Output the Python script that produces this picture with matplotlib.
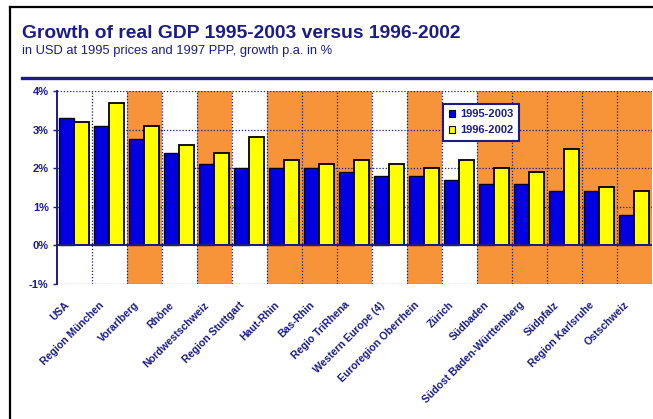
import matplotlib
matplotlib.use("Agg")
import matplotlib.pyplot as plt
import matplotlib.transforms as mtransforms
from matplotlib.patches import Patch
import numpy as np

plt.rcParams['font.family'] = ['Liberation Sans', 'DejaVu Sans']

categories = ["USA", "Region München", "Vorarlberg", "Rhône", "Nordwestschweiz",
              "Region Stuttgart", "Haut-Rhin", "Bas-Rhin", "Regio TriRhena",
              "Western Europe (4)", "Euroregion Oberrhein", "Zürich", "Südbaden",
              "Südost Baden-Württemberg", "Südpfalz", "Region Karlsruhe", "Ostschweiz"]
growth_1995_2003 = [3.3, 3.1, 2.75, 2.4, 2.1, 2.0, 2.0, 2.0, 1.9, 1.8, 1.8, 1.7,
                    1.6, 1.6, 1.4, 1.4, 0.8]
growth_1996_2002 = [3.2, 3.7, 3.1, 2.6, 2.4, 2.8, 2.2, 2.1, 2.2, 2.1, 2.0, 2.2,
                    2.0, 1.9, 2.5, 1.5, 1.4]
highlighted = [False, False, True, False, True, False, True, True, True, False,
               True, False, True, True, True, True, True]
series_names = ["1995-2003", "1996-2002"]
y_ticks = [-1, 0, 1, 2, 3, 4]
y_tick_labels = ["-1%", "0%", "1%", "2%", "3%", "4%"]

NAVY = "#1c1c86"
ORANGE = "#f7943a"
BLUE = "#0000e0"
YELLOW = "#ffff00"

W, H = 653, 419
fig = plt.figure(figsize=(W / 100, H / 100), dpi=100)
fig.patch.set_facecolor("white")

# frame and header
fig.add_artist(plt.Line2D([10 / W, 10 / W], [0, 1 - 7 / H], color="black", lw=1.6))
fig.add_artist(plt.Line2D([10 / W, 1], [1 - 7 / H, 1 - 7 / H], color="black", lw=1.6))
fig.add_artist(plt.Line2D([22 / W, 1], [1 - 78 / H, 1 - 78 / H], color=NAVY, lw=2.4))
fig.text(22 / W, 1 - 33 / H, "Growth of real GDP 1995-2003 versus 1996-2002",
         fontsize=13.9, fontweight="bold", color=NAVY, va="center", ha="left")
fig.text(22 / W, 1 - 51 / H, "in USD at 1995 prices and 1997 PPP, growth p.a. in %",
         fontsize=9.3, color=NAVY, va="center", ha="left")

ax = fig.add_axes([57 / W, (H - 284) / H, 595 / W, 193 / H])
n = len(categories)
x = np.arange(n)
ax.set_xlim(-0.5, n - 0.5)
ax.set_ylim(-1, 4)

for i, h in enumerate(highlighted):
    if h:
        ax.axvspan(i - 0.5, i + 0.5, color=ORANGE, lw=0, zorder=0)

for yv in y_ticks:
    if yv != 0:
        ax.axhline(yv, color=NAVY, lw=0.9, ls=(0, (1, 1.5)), zorder=1)
for i in range(n - 1):
    ax.axvline(i + 0.5, color=NAVY, lw=0.9, ls=(0, (1, 1.5)), zorder=1)
ax.axhline(0, color=NAVY, lw=1.4, zorder=4)

bw = 0.42
ax.bar(x - bw / 2 - 0.02, growth_1995_2003, width=bw, color=BLUE, edgecolor="#000020",
       lw=1.0, zorder=3)
ax.bar(x + bw / 2 - 0.02, growth_1996_2002, width=bw, color=YELLOW, edgecolor="black",
       lw=1.3, zorder=3)

for s in ["top", "right", "bottom"]:
    ax.spines[s].set_visible(False)
ax.spines["left"].set_color(NAVY)
ax.spines["left"].set_linewidth(1.4)
ax.set_yticks(y_ticks)
ax.set_yticklabels(y_tick_labels, fontsize=8, fontweight="bold", color=NAVY)
ax.tick_params(axis="y", length=3, width=1, color=NAVY, pad=3)

ax.set_xticks(x)
ax.set_xticklabels(categories, rotation=45, ha="right", va="center",
                   rotation_mode="anchor", fontsize=7.6, fontweight="bold", color=NAVY)
ax.tick_params(axis="x", length=0, pad=14)
offset = mtransforms.ScaledTranslation(-7 / 100, 0, fig.dpi_scale_trans)
for lab in ax.get_xticklabels():
    lab.set_transform(lab.get_transform() + offset)

handles = [Patch(facecolor=BLUE, edgecolor="#000020", lw=0.8),
           Patch(facecolor=YELLOW, edgecolor="black", lw=0.8)]
leg = ax.legend(handles, series_names, loc="upper left", bbox_to_anchor=(0.649, 0.935),
                fancybox=False, framealpha=1, edgecolor=NAVY, handlelength=0.55,
                handleheight=0.55, handletextpad=0.5, borderpad=0.5, labelspacing=0.55,
                borderaxespad=0, prop={"size": 8, "weight": "bold"})
leg.get_frame().set_linewidth(1.5)
for t in leg.get_texts():
    t.set_color(NAVY)
leg.set_zorder(6)

fig.savefig("out.png", dpi=100)
